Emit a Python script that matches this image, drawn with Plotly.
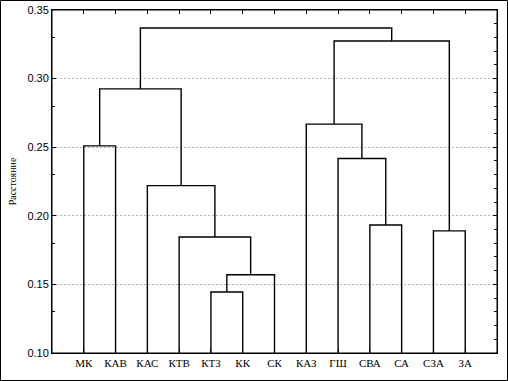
import plotly.graph_objects as go

leaves = ["МК", "КАВ", "КАС", "КТВ", "КТЗ", "КК", "СК", "КАЗ", "ГШ", "СВА", "СА", "СЗА", "ЗА"]
# merges: new cluster ids start at len(leaves)
merge_left = [4, 13, 3, 2, 0, 11, 9, 8, 7, 17, 21, 22]
merge_right = [5, 6, 14, 15, 1, 12, 10, 19, 20, 16, 18, 23]
merge_height = [0.1445, 0.157, 0.1845, 0.222, 0.251, 0.189, 0.1933, 0.2418, 0.2668, 0.2925, 0.3274, 0.3369]

y_min = 0.10
pos = {i: i + 1 for i in range(len(leaves))}
hgt = {i: y_min for i in range(len(leaves))}

xs, ys = [], []
for k, (a, b, h) in enumerate(zip(merge_left, merge_right, merge_height)):
    nid = len(leaves) + k
    xs += [pos[a], pos[a], pos[b], pos[b], None]
    ys += [hgt[a], h, h, hgt[b], None]
    pos[nid] = (pos[a] + pos[b]) / 2
    hgt[nid] = h

fig = go.Figure()
fig.add_trace(go.Scatter(x=xs, y=ys, mode="lines",
                         line=dict(color="black", width=1.4),
                         hoverinfo="skip", showlegend=False, cliponaxis=False))
fig.add_trace(go.Scatter(x=[1], y=[0.2], yaxis="y2", mode="markers",
                         marker=dict(opacity=0), showlegend=False, hoverinfo="skip"))

W, H = 508, 381
ml, mr, mt, mb = 52, 11, 10, 28
pw, ph = W - ml - mr, H - mt - mb

fig.update_layout(
    width=W, height=H,
    margin=dict(l=ml, r=mr, t=mt, b=mb, autoexpand=False),
    paper_bgcolor="white", plot_bgcolor="white",
    showlegend=False,
    xaxis=dict(
        automargin=False,
        range=[0, len(leaves) + 1],
        tickmode="array",
        tickvals=list(range(1, len(leaves) + 1)),
        ticktext=leaves,
        ticks="inside", ticklen=4, tickcolor="black",
        showline=True, linecolor="black", linewidth=1, mirror="ticks",
        showgrid=False, zeroline=False,
        tickfont=dict(family="Liberation Serif", size=11, color="black"),
    ),
    yaxis=dict(
        automargin=False,
        range=[0.10, 0.35],
        dtick=0.05, tick0=0.10, tickformat=".2f",
        ticks="inside", ticklen=4, tickcolor="black",
        showline=True, linecolor="black", linewidth=1, mirror=True,
        showgrid=True, gridcolor="#b4b4b4", griddash="2px,2px", gridwidth=1,
        zeroline=False,
        minor=dict(tickmode="array", tickvals=[0.13, 0.18, 0.23, 0.28, 0.33],
                   ticks="inside", ticklen=3, tickcolor="black", showgrid=False),
        tickfont=dict(family="Liberation Sans", size=11, color="black"),
        title=dict(text="Расстояние", standoff=8,
                   font=dict(family="Liberation Serif", size=10, color="black")),
    ),
    yaxis2=dict(
        automargin=False,
        overlaying="y", side="right", range=[0.10, 0.35],
        dtick=0.05, tick0=0.10, showticklabels=False,
        ticks="inside", ticklen=4, tickcolor="black",
        showgrid=False, zeroline=False, showline=False,
        minor=dict(dtick=0.01, tick0=0.10, ticks="inside", ticklen=3,
                   tickcolor="black", showgrid=False),
    ),
    shapes=[
        dict(type="rect", xref="paper", yref="paper",
             x0=(0.5 - ml) / pw, x1=(W - 0.5 - ml) / pw,
             y0=(mt + ph - (H - 0.5)) / ph, y1=(mt + ph - 0.5) / ph,
             line=dict(color="black", width=1), fillcolor="rgba(0,0,0,0)"),
        dict(type="rect", xref="paper", yref="paper", x0=0, x1=1, y0=0, y1=1,
             line=dict(color="black", width=1), fillcolor="rgba(0,0,0,0)"),
    ],
)

fig.write_html("out.html", config={"displayModeBar": False},
               post_script="document.body.style.margin='0';document.body.style.padding='0';")
